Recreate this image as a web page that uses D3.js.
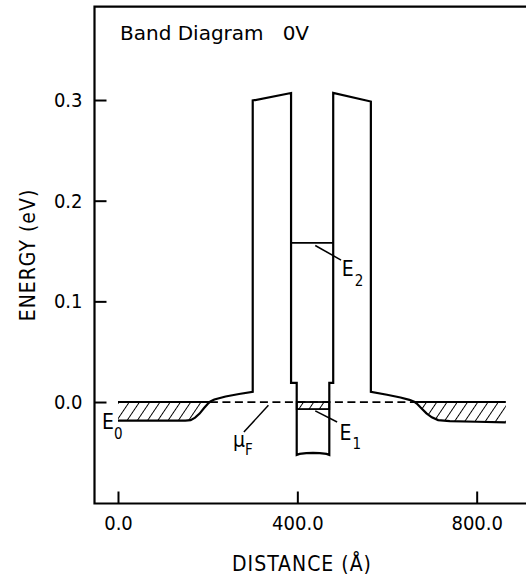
<!DOCTYPE html>
<html>
<head>
<meta charset="utf-8">
<script src="https://cdn.jsdelivr.net/npm/d3@7"></script>
<style>
  body { margin: 0; background: #fff; }
  svg { display: block; }
  text { font-family: "DejaVu Sans Condensed", "DejaVu Sans", sans-serif; font-stretch: condensed; fill: #000; }
</style>
</head>
<body>
<svg id="chart" width="526" height="575"></svg>
<script>
// band profile (distance in Angstrom, energy in eV)
const bandX = [0, 150, 162, 172, 182, 192, 200, 206, 215, 240, 270, 300.5, 300.5, 386, 386, 398.6, 398.6, 405, 420, 435, 450, 465, 471.3, 471.3, 480, 480, 564, 564, 600, 630, 650, 662, 668, 675, 688, 700, 714, 740, 800, 865];
const bandE = [-0.0185, -0.0185, -0.018, -0.0155, -0.0115, -0.006, -0.002, 0.0005, 0.0025, 0.0055, 0.008, 0.0102, 0.2995, 0.307, 0.019, 0.019, -0.0525, -0.0515, -0.0508, -0.0505, -0.0508, -0.0515, -0.0525, 0.019, 0.019, 0.307, 0.2985, 0.0102, 0.0072, 0.0045, 0.0022, 0.0, -0.0022, -0.0055, -0.0113, -0.0152, -0.0179, -0.0189, -0.0196, -0.0203];

const fermiLevel = 0;
const fermiSpan = [205, 662];
const leftEmitter = [0, 206];
const rightEmitter = [662, 865];
const wellX = [398.6, 471.3];
const e1Level = -0.007;
const e2Level = 0.158;
const e2Span = [386, 480];

const xTicks = [0, 400, 800];
const yTicks = [0, 0.1, 0.2, 0.3];
const title = "Band Diagram   0V";
const xTitle = "DISTANCE (Å)";
const yTitle = "ENERGY (eV)";

var svg = d3.select('#chart');

const frame = { left: 94.5, top: 6.7, right: 526, bottom: 503.5 };

var x = d3.scaleLinear().domain([-52.4, 910]).range([frame.left, frame.right]);
var y = d3.scaleLinear().domain([-0.1008, 0.3927]).range([frame.bottom, frame.top]);

// hatch pattern
var defs = svg.append("defs");
defs.append("pattern")
    .attr("id", "hatch")
    .attr("patternUnits", "userSpaceOnUse")
    .attr("width", 8.5).attr("height", 8.5)
    .attr("patternTransform", "rotate(34)")
  .append("line")
    .attr("x1", 0).attr("y1", -1).attr("x2", 0).attr("y2", 10)
    .attr("stroke", "#000").attr("stroke-width", 1.9);

const band = bandX.map((d, i) => ({ x: d, e: bandE[i] }));

// Hatched electron seas in emitter / collector
const seaArea = d3.area()
    .x((d) => x(d.x))
    .y0(y(fermiLevel))
    .y1((d) => y(Math.min(d.e, fermiLevel)));

[leftEmitter, rightEmitter].forEach((span) => {
    var pts = band.filter((d) => d.x >= span[0] && d.x <= span[1]);
    svg.append("path")
        .datum(pts)
        .attr("d", seaArea)
        .attr("fill", "url(#hatch)")
        .attr("stroke", "none");
    svg.append("line")
        .attr("x1", x(span[0])).attr("x2", x(span[1]))
        .attr("y1", y(fermiLevel)).attr("y2", y(fermiLevel))
        .attr("stroke", "#000").attr("stroke-width", 2);
});

// E1 filled strip in the well
svg.append("rect")
    .attr("x", x(wellX[0])).attr("width", x(wellX[1]) - x(wellX[0]))
    .attr("y", y(fermiLevel)).attr("height", y(e1Level) - y(fermiLevel))
    .attr("fill", "url(#hatch)")
    .attr("stroke", "#000").attr("stroke-width", 1.8);

// Fermi level (dashed)
svg.append("line")
    .attr("x1", x(fermiSpan[0])).attr("x2", x(fermiSpan[1]))
    .attr("y1", y(fermiLevel)).attr("y2", y(fermiLevel))
    .attr("stroke", "#000").attr("stroke-width", 1.8)
    .attr("stroke-dasharray", "8,4.5");

// E2 level
svg.append("line")
    .attr("x1", x(e2Span[0])).attr("x2", x(e2Span[1]))
    .attr("y1", y(e2Level)).attr("y2", y(e2Level))
    .attr("stroke", "#000").attr("stroke-width", 1.8);

// Conduction band edge
const line = d3.line().x((d) => x(d.x)).y((d) => y(d.e));
svg.append("path")
    .datum(band)
    .attr("d", line)
    .attr("fill", "none")
    .attr("stroke", "#000")
    .attr("stroke-width", 2.2)
    .attr("stroke-linejoin", "miter");

// Axes (ticks pointing inward)
var gx = svg.append("g")
    .attr("transform", "translate(0," + frame.bottom + ")")
    .call(d3.axisBottom(x).tickValues(xTicks).tickSize(-12).tickPadding(12).tickFormat(d3.format(".1f")));
var gy = svg.append("g")
    .attr("transform", "translate(" + frame.left + ",0)")
    .call(d3.axisLeft(y).tickValues(yTicks).tickSize(-12).tickPadding(12).tickFormat(d3.format(".1f")));
[gx, gy].forEach((g) => {
    g.select(".domain").remove();
    g.selectAll(".tick line").attr("stroke", "#000").attr("stroke-width", 2);
    g.selectAll(".tick text")
        .style("font-family", "\"DejaVu Sans Condensed\", \"DejaVu Sans\", sans-serif")
        .style("font-size", "20px");
});

// Frame: top, left, bottom (open on the right)
svg.append("path")
    .attr("d", "M" + frame.right + "," + frame.top + "H" + frame.left + "V" + frame.bottom + "H" + frame.right)
    .attr("fill", "none")
    .attr("stroke", "#000")
    .attr("stroke-width", 2.2);

// Texts
svg.append("text")
    .attr("x", 120).attr("y", 40)
    .style("font-family", "\"DejaVu Sans\", sans-serif")
    .style("font-stretch", "normal")
    .style("font-size", "20px")
    .style("white-space", "pre")
    .attr("xml:space", "preserve")
    .text(title);

svg.append("text")
    .attr("x", 302).attr("y", 571)
    .attr("text-anchor", "middle")
    .style("font-size", "21px")
    .style("letter-spacing", "1px")
    .text(xTitle);

svg.append("text")
    .attr("transform", "translate(35,255) rotate(-90)")
    .attr("text-anchor", "middle")
    .style("font-size", "21px")
    .style("letter-spacing", "1px")
    .text(yTitle);

// Level labels with leader lines
const leader = (x1, e1, x2, e2) => {
    svg.append("line")
        .attr("x1", x(x1)).attr("y1", y(e1))
        .attr("x2", x(x2)).attr("y2", y(e2))
        .attr("stroke", "#000").attr("stroke-width", 1.5);
};
const label = (main, sub, xa, ea, subDx, subDy) => {
    var t = svg.append("text")
        .attr("x", x(xa)).attr("y", y(ea))
        .style("font-size", "21px");
    t.append("tspan").text(main);
    t.append("tspan")
        .attr("dx", subDx).attr("dy", subDy)
        .style("font-size", "15px")
        .text(sub);
};

leader(440, 0.1555, 497.5, 0.141);
label("E", "2", 499, 0.1248, 1, 10);

leader(440, -0.0088, 488.7, -0.0198);
label("E", "1", 494, -0.0375, 1, 9);

leader(335.5, -0.0032, 280.8, -0.0298);
label("μ", "F", 256.5, -0.0447, 0, 8);

label("E", "0", -35.7, -0.0264, 0, 10);
</script>
</body>
</html>
